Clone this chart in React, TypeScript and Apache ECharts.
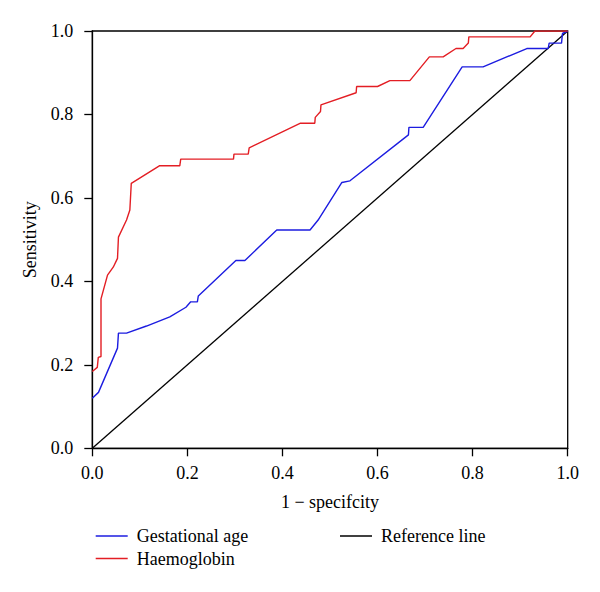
import React, { useEffect, useRef } from "react";
import * as echarts from "echarts";

const gestFpr = [0, 0.013, 0.053, 0.055, 0.072, 0.114, 0.163, 0.197, 0.207, 0.221, 0.223, 0.302, 0.321, 0.388, 0.458, 0.475, 0.525, 0.542, 0.665, 0.666, 0.696, 0.778, 0.822, 0.914, 0.959, 0.961, 0.987, 0.989, 1];
const gestTpr = [0.12, 0.134, 0.24, 0.276, 0.276, 0.293, 0.315, 0.338, 0.351, 0.351, 0.365, 0.45, 0.45, 0.523, 0.523, 0.547, 0.637, 0.641, 0.751, 0.769, 0.769, 0.914, 0.914, 0.958, 0.958, 0.971, 0.971, 0.994, 1];

const haemFpr = [0, 0.0105, 0.0126, 0.0183, 0.0183, 0.032, 0.044, 0.053, 0.055, 0.072, 0.079, 0.082, 0.141, 0.184, 0.186, 0.297, 0.298, 0.328, 0.33, 0.438, 0.468, 0.469, 0.48, 0.481, 0.555, 0.556, 0.6, 0.626, 0.668, 0.709, 0.738, 0.765, 0.78, 0.791, 0.792, 0.921, 0.931, 1];
const haemTpr = [0.184, 0.194, 0.218, 0.22, 0.358, 0.415, 0.434, 0.455, 0.506, 0.547, 0.571, 0.635, 0.677, 0.677, 0.693, 0.693, 0.705, 0.705, 0.72, 0.779, 0.779, 0.793, 0.807, 0.823, 0.852, 0.867, 0.867, 0.881, 0.881, 0.938, 0.938, 0.958, 0.958, 0.971, 0.986, 0.986, 1, 1];

const refFpr = [0, 1];
const refTpr = [0, 1];

const tickValues = [0, 0.2, 0.4, 0.6, 0.8, 1.0];

const FONT = "Liberation Serif";
const FS = 18;

function pairs(xs: number[], ys: number[]) {
  return xs.map((x, i) => [x, ys[i]]);
}

export default function App() {
  const ref = useRef<HTMLDivElement>(null);
  useEffect(() => {
    if (!ref.current) return;
    const chart = echarts.init(ref.current, null, { renderer: "svg" });
    const axisCommon = {
      type: "value" as const,
      min: tickValues[0],
      max: tickValues[tickValues.length - 1],
      interval: 0.2,
      splitLine: { show: false },
      axisLine: { show: true, lineStyle: { color: "#000", width: 1.3 } },
      axisTick: { show: true, inside: false, length: 8, lineStyle: { color: "#000", width: 1.3 } },
      nameLocation: "middle" as const,
      nameTextStyle: { fontFamily: FONT, fontSize: FS, color: "#000" },
    };
    const legendText = { fontFamily: FONT, fontSize: FS, color: "#000", padding: [0, 0, 0, 4] };
    chart.setOption({
      animation: false,
      backgroundColor: "#fff",
      grid: {
        left: 92.3,
        right: 32.3,
        top: 31,
        bottom: 143.7,
        show: true,
        borderColor: "#000",
        borderWidth: 1.3,
        backgroundColor: "transparent",
      },
      xAxis: {
        ...axisCommon,
        name: "1 \u2212 specifcity",
        nameGap: 45,
        axisLabel: {
          margin: 15.5,
          fontFamily: FONT,
          fontSize: FS,
          color: "#000",
          formatter: (v: number) => v.toFixed(1),
        },
      },
      yAxis: {
        ...axisCommon,
        name: "Sensitivity",
        nameGap: 53,
        axisLabel: {
          margin: 19,
          fontFamily: FONT,
          fontSize: FS,
          color: "#000",
          formatter: (v: number) => v.toFixed(1),
        },
      },
      legend: [
        {
          orient: "vertical",
          left: 90.7,
          top: 522,
          icon: "rect",
          itemWidth: 32,
          itemHeight: 1.5,
          itemGap: 4.5,
          data: ["Gestational age", "Haemoglobin"],
          textStyle: legendText,
        },
        {
          orient: "vertical",
          left: 335,
          top: 522,
          icon: "rect",
          itemWidth: 32,
          itemHeight: 1.5,
          data: ["Reference line"],
          textStyle: legendText,
        },
      ],
      series: [
        {
          name: "Gestational age",
          type: "line",
          data: pairs(gestFpr, gestTpr),
          symbol: "none",
          lineStyle: { color: "#1c1ce0", width: 1.4 },
          itemStyle: { color: "#1c1ce0" },
          z: 3,
        },
        {
          name: "Haemoglobin",
          type: "line",
          data: pairs(haemFpr, haemTpr),
          symbol: "none",
          lineStyle: { color: "#e31e24", width: 1.4 },
          itemStyle: { color: "#e31e24" },
          z: 3,
        },
        {
          name: "Reference line",
          type: "line",
          data: pairs(refFpr, refTpr),
          symbol: "none",
          lineStyle: { color: "#000", width: 1.3 },
          itemStyle: { color: "#000" },
          z: 2,
        },
      ],
    });
    return () => chart.dispose();
  }, []);
  return (
    <div
      ref={ref}
      style={{ position: "absolute", left: 0, top: 0, width: 600, height: 592 }}
    />
  );
}
